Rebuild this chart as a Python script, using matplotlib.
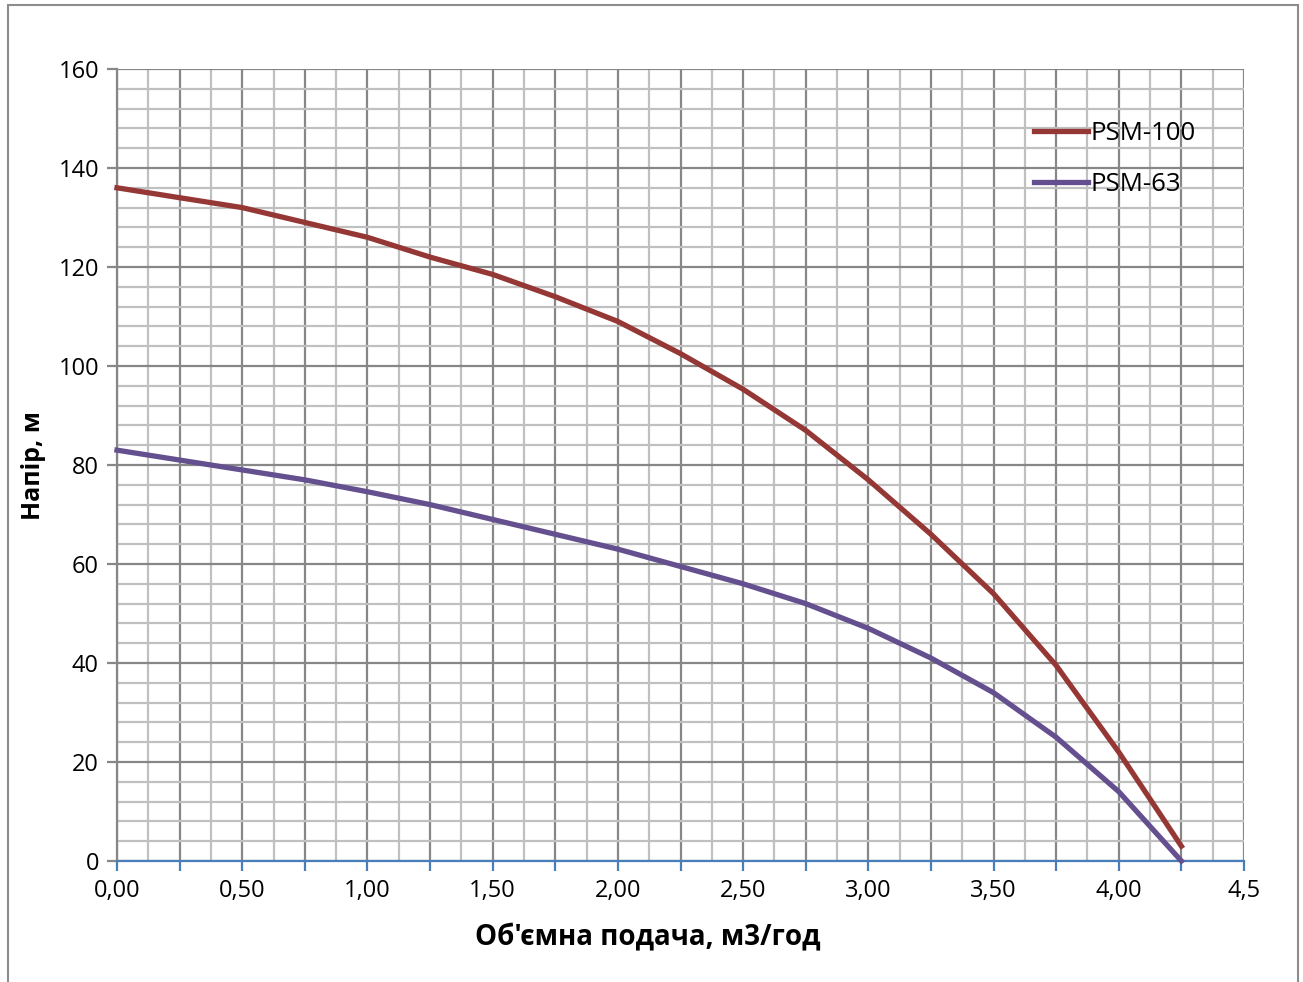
import matplotlib.pyplot as plt
from matplotlib.patches import Rectangle

plt.rcParams['font.family'] = ['Open Sans', 'DejaVu Sans']

flow = [0.0, 0.25, 0.5, 0.75, 1.0, 1.25, 1.5, 1.75, 2.0, 2.25, 2.5, 2.75, 3.0, 3.25, 3.5, 3.75, 4.0, 4.25]
head_psm100 = [136, 134, 132, 129, 126, 122, 118.5, 114, 109, 102.5, 95.3, 87, 77, 66, 54, 39.5, 22, 3]
head_psm63 = [83, 81, 79, 77, 74.6, 72, 69, 66, 63, 59.5, 56, 52, 47, 41, 34, 25, 14, 0]

x_ticks = [0.0, 0.25, 0.5, 0.75, 1.0, 1.25, 1.5, 1.75, 2.0, 2.25, 2.5, 2.75, 3.0, 3.25, 3.5, 3.75, 4.0, 4.25, 4.5]
x_labels = ['0,00', '', '0,50', '', '1,00', '', '1,50', '', '2,00', '', '2,50', '', '3,00', '', '3,50', '', '4,00', '', '4,5']
y_ticks = [0, 20, 40, 60, 80, 100, 120, 140, 160]

fig = plt.figure(figsize=(13.03, 9.82), dpi=100)
ax = fig.add_axes([117 / 1303, 1 - 861 / 982, (1244 - 117) / 1303, (861 - 69) / 982])

# outer chart border
fig.patches.append(Rectangle((8 / 1303, -0.05), (1298 - 8) / 1303, 1.05 - 5 / 982,
                             transform=fig.transFigure, fill=False, edgecolor='#8c8c8c', lw=1.5))

ax.set_xlim(0, 4.5)
ax.set_ylim(0, 160)

ax.set_xticks(x_ticks)
ax.set_xticklabels(x_labels, fontsize=17)
ax.set_xticks([i * 0.125 for i in range(37)], minor=True)
ax.set_yticks(y_ticks)
ax.set_yticklabels([str(v) for v in y_ticks], fontsize=17)
ax.set_yticks(range(0, 161, 4), minor=True)

ax.grid(True, which='major', color='#878787', lw=1.6, zorder=0)
ax.grid(True, which='minor', color='#c0c0c0', lw=1.6, zorder=0)
ax.set_axisbelow(True)

ax.tick_params(axis='x', which='major', length=7, width=1.6, color='#4a7ebb', pad=6)
ax.tick_params(axis='y', which='major', length=7, width=1.6, color='#878787', pad=6)
ax.tick_params(which='minor', length=0)

for s in ['top', 'right']:
    ax.spines[s].set_visible(False)
ax.spines['left'].set_color('#878787')
ax.spines['left'].set_linewidth(1.6)
ax.spines['bottom'].set_color('#4a7ebb')
ax.spines['bottom'].set_linewidth(1.6)
ax.spines['bottom'].set_zorder(3)

ax.plot(flow, head_psm100, color='#953735', lw=3.8, label='PSM-100', zorder=4, clip_on=False)
ax.plot(flow, head_psm63, color='#65508f', lw=3.8, label='PSM-63', zorder=4, clip_on=False)

ax.set_xlabel("Об'ємна подача, м3/год", fontsize=20, fontweight='bold', va='center')
ax.xaxis.set_label_coords(0.4705, -0.097)
ax.set_ylabel('Напір, м', fontsize=18, fontweight='bold', va='center')
ax.yaxis.set_label_coords(-0.0745, 0.5)

ax.legend(loc='upper left', bbox_to_anchor=(0.8137, 0.934), frameon=False, fontsize=18.5,
          handlelength=2.1, handletextpad=0.1, labelspacing=1.0, borderaxespad=0, borderpad=0)

fig.savefig('out.png', dpi=100)
